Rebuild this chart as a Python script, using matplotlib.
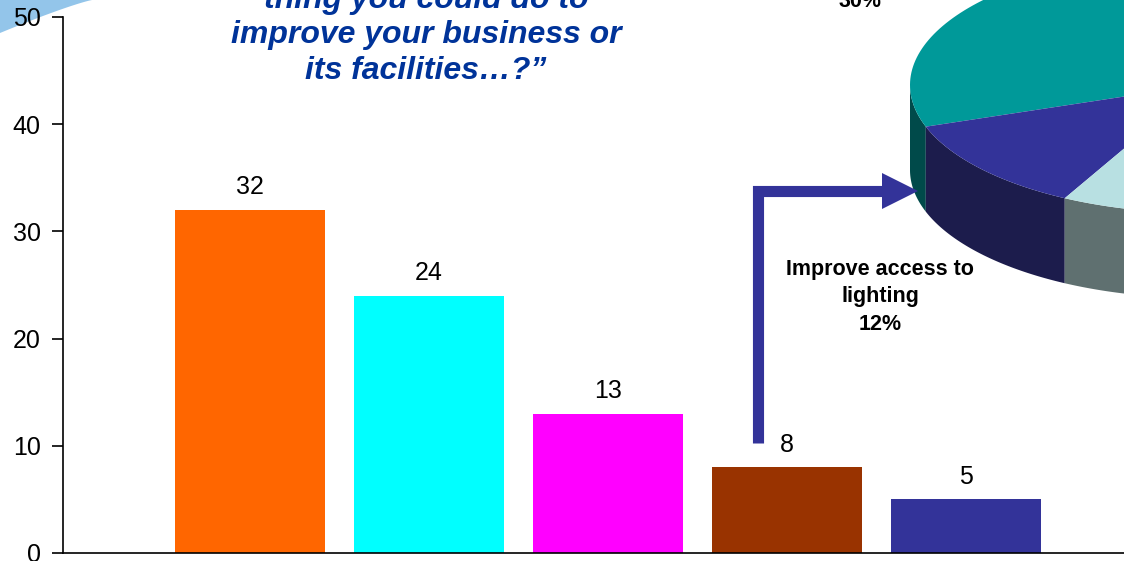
import numpy as np
import matplotlib
matplotlib.use("Agg")
import matplotlib.pyplot as plt
from matplotlib.patches import Polygon

plt.rcParams['font.family'] = ['Liberation Sans', 'DejaVu Sans']

# bar data
bar_values = [32, 24, 13, 8, 5]
bar_colors = ['#ff6600', '#00ffff', '#ff00ff', '#993300', '#333399']
y_ticks = [0, 10, 20, 30, 40, 50]

# pie data (only part of the pie is visible in the picture)
pie_shares = [30, 12, 9, 24, 25]
pie_top = ['#009999', '#333399', '#b8e0e2', '#99ccff', '#ffcc99']
pie_side = ['#004a4a', '#1c1c4c', '#5f7070', '#4c667f', '#7f664c']
pie_note = "Improve access to\nlighting\n12%"

title = "\u201cWhat is the one\nthing you could do to\nimprove your business or\nits facilities\u2026?\u201d"

W, H = 1124, 561
fig = plt.figure(figsize=(W / 100, H / 100), dpi=100)

# background layer in pixel coordinates (swoosh behind the chart)
bg = fig.add_axes([0, 0, 1, 1], zorder=0)
bg.set_xlim(0, W)
bg.set_ylim(H, 0)
bg.axis('off')
sx = np.linspace(0, 92, 30)
sy = 33 * (1 - sx / 92) ** 1.15
bg.add_patch(Polygon([(0, 0)] + list(zip(sx, sy)), closed=True,
                     facecolor='#93c5ea', edgecolor='none'))

ax = fig.add_axes([63 / W, 8 / H, 1 - 63 / W, 536 / H], zorder=1)
ax.patch.set_alpha(0)
x = np.arange(len(bar_values))
ax.bar(x, bar_values, width=0.837, color=bar_colors, zorder=2)
for xi, v in zip(x, bar_values):
    ax.text(xi, v + 1.0, str(v), ha='center', va='bottom', fontsize=18)
ax.set_ylim(0, 50)
ax.set_xlim(-1.045, 4.883)
ax.set_yticks(y_ticks)
ax.set_xticks([])
ax.tick_params(axis='y', labelsize=18, length=8, width=1.2, pad=8)
for s in ['top', 'right']:
    ax.spines[s].set_visible(False)
ax.spines['left'].set_linewidth(1.2)
ax.spines['bottom'].set_linewidth(1.2)

# overlay in pixel coordinates for the decorations
ov = fig.add_axes([0, 0, 1, 1], zorder=5)
ov.set_xlim(0, W)
ov.set_ylim(H, 0)
ov.axis('off')

ov.text(426, 79, title, ha='center', va='baseline', fontsize=23,
        fontweight='bold', fontstyle='italic', color='#003399',
        linespacing=1.25)

# 3D pie
cx, cy, a, b, depth = 1200, 85, 290, 128, 85
start = 91.0
angles = start + np.concatenate([[0], np.cumsum(pie_shares)]) * 3.6


def rim(t0, t1, n=80):
    t = np.radians(np.linspace(t0, t1, n))
    return cx + a * np.cos(t), cy - b * np.sin(t)


for i in range(len(pie_shares)):
    t0, t1 = angles[i], angles[i + 1]
    lo, hi = max(t0, 180), min(t1, 360)
    if hi > lo:
        xs, ys = rim(lo, hi)
        pts = list(zip(xs, ys)) + list(zip(xs[::-1], ys[::-1] + depth))
        ov.add_patch(Polygon(pts, closed=True, facecolor=pie_side[i],
                             edgecolor='none'))
for i in range(len(pie_shares)):
    xs, ys = rim(angles[i], angles[i + 1])
    pts = [(cx, cy)] + list(zip(xs, ys))
    ov.add_patch(Polygon(pts, closed=True, facecolor=pie_top[i],
                         edgecolor='none'))

ov.text(860, 7, "30%", ha='center', va='baseline', fontsize=15.5,
        fontweight='bold')
ov.text(880, 330, pie_note, ha='center', va='baseline', fontsize=15.5,
        fontweight='bold', linespacing=1.42, multialignment='center')

# elbow arrow
ov.plot([758, 758, 885], [443, 191, 191], color='#333399', lw=8,
        solid_joinstyle='miter', solid_capstyle='butt')
ov.add_patch(Polygon([(882, 173), (918, 191), (882, 209)], closed=True,
                     facecolor='#333399', edgecolor='none'))

fig.savefig('out.png', dpi=100)
